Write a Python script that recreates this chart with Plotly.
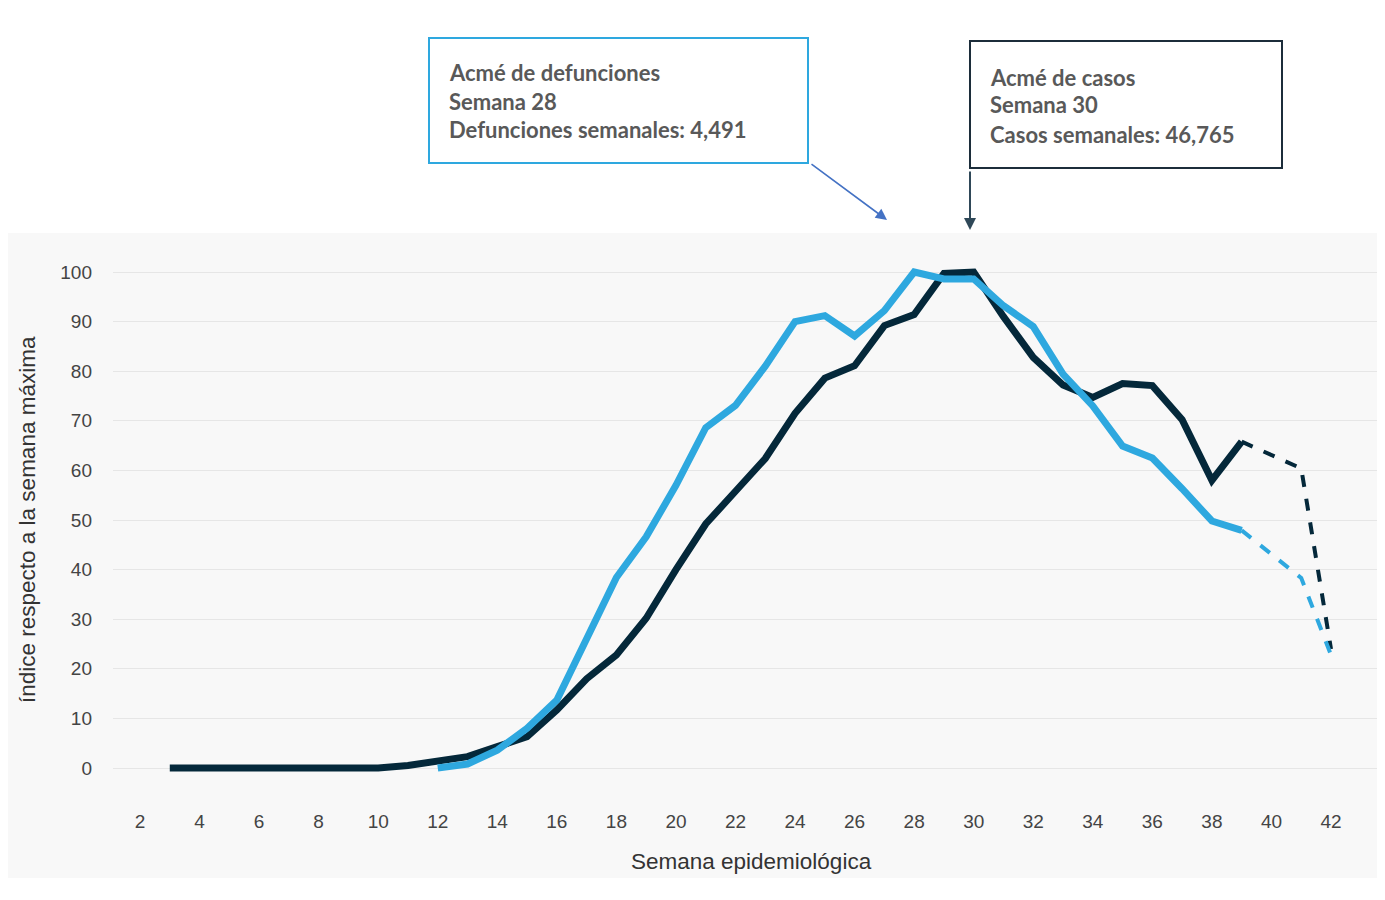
import plotly.graph_objects as go

# ---- data ----
semanas_casos = [3, 4, 5, 6, 7, 8, 9, 10, 11, 12, 13, 14, 15, 16, 17, 18, 19, 20,
                 21, 22, 23, 24, 25, 26, 27, 28, 29, 30, 31, 32, 33, 34, 35, 36, 37, 38, 39]
indice_casos = [0, 0, 0, 0, 0, 0, 0, 0, 0.5, 1.3, 2.3, 4.3, 6.3, 11.7, 18, 22.8, 30.2, 40,
                49.2, 55.8, 62.4, 71.5, 78.6, 81.1, 89.2, 91.4, 99.7, 100, 91, 82.8, 77.2, 74.7, 77.5, 77.1, 70.2, 58, 65.8]
semanas_casos_prelim = [39, 40, 41, 42]
indice_casos_prelim = [65.8, 63.1, 60.4, 24]

semanas_def = [12, 13, 14, 15, 16, 17, 18, 19, 20, 21, 22, 23, 24, 25, 26, 27, 28, 29,
               30, 31, 32, 33, 34, 35, 36, 37, 38, 39]
indice_def = [0, 0.8, 3.6, 8, 13.7, 25.8, 38.4, 46.6, 57, 68.6, 73.1, 81, 90, 91.2, 87.1, 92.2, 100, 98.6,
              98.6, 93.2, 89, 79.4, 73, 64.9, 62.5, 56.3, 49.8, 47.9]
semanas_def_prelim = [39, 40, 41, 42]
indice_def_prelim = [47.9, 43.1, 38.3, 22.8]

x_ticks = list(range(2, 43, 2))
y_ticks = list(range(0, 101, 10))

COLOR_CASOS = "#04283a"
COLOR_DEF = "#2ea8df"

fig = go.Figure()
fig.add_trace(go.Scatter(x=semanas_casos, y=indice_casos, mode="lines",
                         line=dict(color=COLOR_CASOS, width=7), showlegend=False, name="Casos"))
fig.add_trace(go.Scatter(x=semanas_casos_prelim, y=indice_casos_prelim, mode="lines",
                         line=dict(color=COLOR_CASOS, width=4, dash="dash"), showlegend=False))
fig.add_trace(go.Scatter(x=semanas_def, y=indice_def, mode="lines",
                         line=dict(color=COLOR_DEF, width=7), showlegend=False, name="Defunciones"))
fig.add_trace(go.Scatter(x=semanas_def_prelim, y=indice_def_prelim, mode="lines",
                         line=dict(color=COLOR_DEF, width=4, dash="dash"), showlegend=False))

# page offset (body margin) and plot area in screen pixels
OFF = 8
FW, FH = 1385 - OFF, 900 - OFF
L, R, T, B = 113, 1380, 257, 805
W, H = R - L, B - T

def px(x):
    return (x - L) / W

def py(y):
    return (B - y) / H

shapes = [
    dict(type="rect", xref="paper", yref="paper", x0=px(0), x1=px(1385), y0=py(878), y1=py(233),
         fillcolor="#f8f8f8", line=dict(width=0), layer="below"),
    dict(type="rect", xref="paper", yref="paper", x0=px(429), x1=px(808), y0=py(163), y1=py(38),
         fillcolor="white", line=dict(color="#2ea8df", width=2)),
    dict(type="rect", xref="paper", yref="paper", x0=px(970), x1=px(1282), y0=py(168), y1=py(41),
         fillcolor="white", line=dict(color="#1c2d3a", width=2)),
]

annotations = []
txt_font = dict(family="Lato, Carlito, sans-serif", size=22, color="#595959")
for t, yy in [("<b>Acmé de defunciones</b>", 73), ("<b>Semana 28</b>", 101),
              ("<b>Defunciones semanales: 4,491</b>", 130)]:
    annotations.append(dict(text=t, xref="paper", yref="paper", x=px(447), y=py(yy),
                            xanchor="left", yanchor="middle", showarrow=False, font=txt_font))
for t, yy in [("<b>Acmé de casos</b>", 77), ("<b>Semana 30</b>", 105),
              ("<b>Casos semanales: 46,765</b>", 134)]:
    annotations.append(dict(text=t, xref="paper", yref="paper", x=px(988), y=py(yy),
                            xanchor="left", yanchor="middle", showarrow=False, font=txt_font))

annotations.append(dict(text="", xref="paper", yref="paper", x=px(887), y=py(220),
                        ax=810 - 887, ay=163 - 220, showarrow=True, arrowhead=2, arrowsize=1.4,
                        arrowwidth=1.6, arrowcolor="#4472c4"))
annotations.append(dict(text="", xref="paper", yref="paper", x=px(970), y=py(230),
                        ax=0, ay=-60, showarrow=True, arrowhead=2, arrowsize=1.2,
                        arrowwidth=2, arrowcolor="#2f4858"))

# axis titles
title_font = dict(family="Liberation Sans, Arial, sans-serif", size=22.5, color="#333")
annotations.append(dict(text="índice respecto a la semana máxima", xref="paper", yref="paper",
                        x=px(27), y=py(520), xanchor="center", yanchor="middle", textangle=-90,
                        showarrow=False, font=title_font))
annotations.append(dict(text="Semana epidemiológica", xref="paper", yref="paper",
                        x=px(751), y=py(861), xanchor="center", yanchor="middle",
                        showarrow=False, font=title_font))

x0r = 2 - (140 - L) / 29.775
x1r = 2 + (R - 140) / 29.775
y0r = -(B - 768) / 4.96
y1r = (768 - T) / 4.96

fig.update_layout(
    width=FW, height=FH,
    margin=dict(l=L - OFF, r=1385 - R, t=T - OFF, b=900 - B),
    paper_bgcolor="white", plot_bgcolor="rgba(0,0,0,0)",
    font=dict(family="Liberation Sans, Arial, sans-serif", color="#444"),
    shapes=shapes, annotations=annotations,
    xaxis=dict(range=[x0r, x1r], tickvals=x_ticks, showgrid=False, zeroline=False,
               showline=False, ticks="", tickfont=dict(size=19, color="#444"),
               ticklabelstandoff=3),
    yaxis=dict(range=[y0r, y1r], tickvals=y_ticks, showgrid=True, gridcolor="#e6e6e6", gridwidth=1,
               zeroline=False, showline=False, ticks="", tickfont=dict(size=19, color="#444"),
               ticklabelstandoff=20),
)

fig.write_html("out.html")
